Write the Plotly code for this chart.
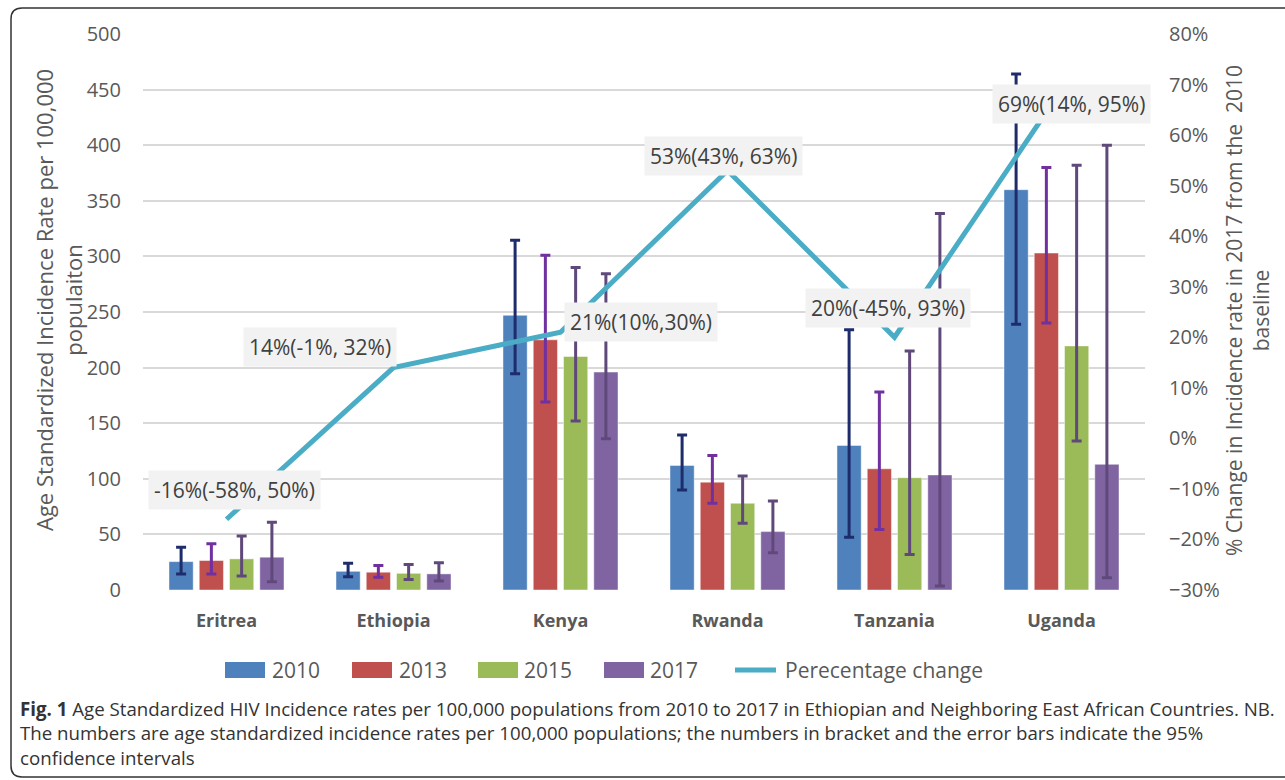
import plotly.graph_objects as go

# ---------------- data ----------------
countries = ["Eritrea", "Ethiopia", "Kenya", "Rwanda", "Tanzania", "Uganda"]
years = ["2010", "2013", "2015", "2017"]

rate_2010 = [25.5, 16.8, 247, 112, 130, 360]
low_2010 = [14.5, 12, 194.5, 90, 47.5, 239]
high_2010 = [38.5, 24, 314.5, 139.5, 234, 464]

rate_2013 = [26.5, 16, 225, 97, 109, 303]
low_2013 = [14.5, 11.5, 169, 78, 54.5, 240]
high_2013 = [41.5, 22, 301, 121, 178, 380]

rate_2015 = [28, 15, 210, 78, 101, 219.5]
low_2015 = [12.5, 9.5, 152, 60, 32, 134]
high_2015 = [48.5, 23, 290, 102.5, 215, 382]

rate_2017 = [29.5, 14.5, 196, 52.5, 103.5, 113]
low_2017 = [7.5, 8, 136, 33.5, 3.5, 11]
high_2017 = [61, 24.5, 284.5, 80, 338.5, 400]

pct_change = [-0.16, 0.14, 0.21, 0.53, 0.20, 0.69]
pct_labels = ["-16%(-58%, 50%)", "14%(-1%, 32%)", "21%(10%,30%)",
              "53%(43%, 63%)", "20%(-45%, 93%)", "69%(14%, 95%)"]

left_ticks = [0, 50, 100, 150, 200, 250, 300, 350, 400, 450, 500]
right_ticks = [-0.3, -0.2, -0.1, 0, 0.1, 0.2, 0.3, 0.4, 0.5, 0.6, 0.7, 0.8]

# ---------------- styles ----------------
bar_colors = ["#4F81BD", "#C0504D", "#9BBB59", "#8064A2"]
err_colors = ["#1F2C6C", "#7030A0", "#5F497A", "#5F497A"]
line_color = "#4BACC6"
FONT = "Open Sans"

# plot-area geometry (pixels) used for paper conversions
PL, PR, PT, PB = 143, 1145, 34, 590
W, H = PR - PL, PB - PT


def px(x):
    return (x - PL) / W


def py(y):
    return (PB - y) / H


fig = go.Figure()

series = [(rate_2010, low_2010, high_2010), (rate_2013, low_2013, high_2013),
          (rate_2015, low_2015, high_2015), (rate_2017, low_2017, high_2017)]

for i, (yr, (v, lo, hi)) in enumerate(zip(years, series)):
    fig.add_trace(go.Bar(
        x=countries, y=v, name=yr,
        marker=dict(color=bar_colors[i], line=dict(color="rgba(255,255,255,0.45)", width=1)),
        error_y=dict(type="data", symmetric=False,
                     array=[h - a for h, a in zip(hi, v)],
                     arrayminus=[a - l for a, l in zip(v, lo)],
                     color=err_colors[i], thickness=3, width=5),
        showlegend=False,
    ))

fig.add_trace(go.Scatter(
    x=countries, y=pct_change, yaxis="y2", mode="lines",
    line=dict(color=line_color, width=5), name="Perecentage change",
    showlegend=False,
))

# ---------------- percentage labels ----------------
label_pos = [(234.5, 489.5), (320, 347.5), (641, 322), (723, 156), (888, 308), (1071, 104)]
annotations = []
for txt, (lx, ly) in zip(pct_labels, label_pos):
    annotations.append(dict(
        text=txt, x=px(lx), y=py(ly), xref="paper", yref="paper",
        showarrow=False, xanchor="center", yanchor="middle",
        bgcolor="#F2F2F2", borderpad=5,
        font=dict(family=FONT, size=21, color="#404040"),
    ))

# axis titles
annotations.append(dict(
    text="Age Standardized Incidence Rate per 100,000<br>populaiton",
    x=px(58), y=py(300), xref="paper", yref="paper", showarrow=False,
    textangle=-90, xanchor="center", yanchor="middle",
    font=dict(family=FONT, size=22, color="#595959"),
))
annotations.append(dict(
    text="% Change in Incidence rate in 2017 from the  2010<br>baseline",
    x=px(1247), y=py(311), xref="paper", yref="paper", showarrow=False,
    textangle=-90, xanchor="center", yanchor="middle",
    font=dict(family=FONT, size=21, color="#595959"),
))

# ---------------- custom legend ----------------
shapes = []
legend_items = [("2010", 225, 270), ("2013", 352, 397), ("2015", 478, 522), ("2017", 604, 648)]
for (lab, x0, tx), col in zip(legend_items, bar_colors):
    shapes.append(dict(type="rect", xref="paper", yref="paper",
                       x0=px(x0), x1=px(x0 + 40), y0=py(678), y1=py(662),
                       fillcolor=col, line=dict(width=0)))
    annotations.append(dict(text=lab, x=px(tx), y=py(670), xref="paper", yref="paper",
                            showarrow=False, xanchor="left", yanchor="middle",
                            font=dict(family=FONT, size=21, color="#595959")))
shapes.append(dict(type="line", xref="paper", yref="paper",
                   x0=px(735), x1=px(776), y0=py(670), y1=py(670),
                   line=dict(color=line_color, width=5)))
annotations.append(dict(text="Perecentage change", x=px(783), y=py(670), xref="paper", yref="paper",
                        showarrow=False, xanchor="left", yanchor="middle",
                        font=dict(family=FONT, size=21, color="#595959")))

# ---------------- caption ----------------
annotations.append(dict(
    text=("<b>Fig. 1</b> Age Standardized HIV Incidence rates per 100,000 populations from 2010 to 2017 "
          "in Ethiopian and Neighboring East African Countries. NB.<br>"
          "The numbers are age standardized incidence rates per 100,000 populations; the numbers in bracket "
          "and the error bars indicate the 95%<br>confidence intervals"),
    x=px(18), y=py(694), xref="paper", yref="paper", showarrow=False,
    xanchor="left", yanchor="top", align="left",
    font=dict(family=FONT, size=18.7, color="#333333"),
))

# ---------------- frame ----------------
frame_path = (f"M {px(1295)} {py(8)} L {px(22)} {py(8)} "
              f"Q {px(11)} {py(8)} {px(11)} {py(19)} "
              f"L {px(11)} {py(766)} Q {px(11)} {py(777)} {px(22)} {py(777)} "
              f"L {px(1295)} {py(777)}")
shapes.append(dict(type="path", xref="paper", yref="paper", path=frame_path,
                   line=dict(color="#333333", width=1.5)))

fig.update_layout(
    width=1285, height=780,
    margin=dict(l=PL, r=1285 - PR, t=PT, b=780 - PB),
    paper_bgcolor="white", plot_bgcolor="white",
    barmode="group", bargap=0.275, bargroupgap=0.2,
    showlegend=False,
    font=dict(family=FONT, color="#595959"),
    xaxis=dict(
        showgrid=False, showline=False, zeroline=False,
        ticks="outside", ticklen=14, tickcolor="rgba(0,0,0,0)",
        tickfont=dict(family=FONT, size=18, color="#595959", weight="bold"),
    ),
    yaxis=dict(
        range=[0, 500], tickvals=left_ticks, showgrid=True,
        gridcolor="#D9D9D9", gridwidth=1.5, zeroline=False, showline=False,
        ticks="outside", ticklen=17, tickcolor="rgba(0,0,0,0)",
        tickfont=dict(family=FONT, size=20, color="#595959"),
    ),
    yaxis2=dict(
        range=[-0.3, 0.8], tickvals=right_ticks, tickformat=".0%",
        overlaying="y", side="right", showgrid=False, zeroline=False, showline=False,
        ticks="outside", ticklen=19, tickcolor="rgba(0,0,0,0)",
        tickfont=dict(family=FONT, size=20, color="#595959"),
    ),
    annotations=annotations,
    shapes=shapes,
)

fig.write_html("out.html")
